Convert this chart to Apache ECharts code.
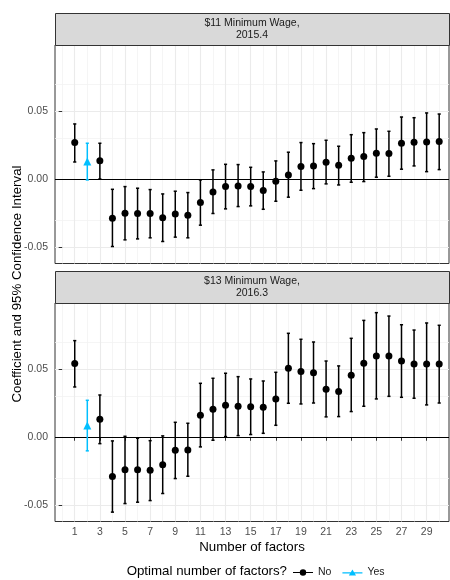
<!DOCTYPE html>
<html><head><meta charset="utf-8">
<script src="https://cdn.jsdelivr.net/npm/echarts@6/dist/echarts.min.js"></script>
<style>html,body{margin:0;padding:0;background:#fff}#c{width:450px;height:580px}</style>
</head><body><div id="c"></div>
<script>
// ---------- data ----------
const factors = [1,2,3,4,5,6,7,8,9,10,11,12,13,14,15,16,17,18,19,20,21,22,23,24,25,26,27,28,29,30];
const optimal = ['No','Yes','No','No','No','No','No','No','No','No','No','No','No','No','No','No','No','No','No','No','No','No','No','No','No','No','No','No','No','No'];
const panelTitles = ['$11 Minimum Wage,\n2015.4', '$13 Minimum Wage,\n2016.3'];

const coef11  = [0.0270,0.0130,0.0137,-0.0287,-0.0250,-0.0252,-0.0252,-0.0284,-0.0255,-0.0265,-0.0172,-0.0093,-0.0054,-0.0049,-0.0054,-0.0083,-0.0015,0.0032,0.0093,0.0098,0.0125,0.0103,0.0154,0.0167,0.0191,0.0189,0.0265,0.0272,0.0275,0.0277];
const upper11 = [0.0407,0.0265,0.0265,-0.0074,-0.0054,-0.0066,-0.0076,-0.0108,-0.0088,-0.0098,-0.0005,0.0069,0.0110,0.0108,0.0088,0.0054,0.0135,0.0199,0.0270,0.0262,0.0287,0.0243,0.0328,0.0343,0.0370,0.0353,0.0458,0.0453,0.0488,0.0480];
const lower11 = [0.0127,-0.0005,0.0002,-0.0495,-0.0446,-0.0439,-0.0431,-0.0458,-0.0426,-0.0431,-0.0338,-0.0252,-0.0218,-0.0201,-0.0196,-0.0221,-0.0162,-0.0132,-0.0081,-0.0069,-0.0034,-0.0042,-0.0022,-0.0017,0.0015,0.0022,0.0074,0.0098,0.0056,0.0071];

const coef13  = [0.0542,0.0086,0.0132,-0.0289,-0.0240,-0.0240,-0.0243,-0.0203,-0.0096,-0.0093,0.0162,0.0206,0.0235,0.0228,0.0225,0.0221,0.0282,0.0507,0.0483,0.0475,0.0353,0.0336,0.0456,0.0544,0.0598,0.0598,0.0561,0.0539,0.0539,0.0539];
const upper13 = [0.0711,0.0272,0.0311,-0.0027,0.0007,-0.0007,-0.0025,0.0010,0.0110,0.0103,0.0397,0.0434,0.0471,0.0446,0.0429,0.0414,0.0478,0.0765,0.0721,0.0701,0.0561,0.0525,0.0728,0.0860,0.0917,0.0892,0.0828,0.0789,0.0841,0.0824];
const lower13 = [0.0370,-0.0100,-0.0047,-0.0551,-0.0488,-0.0478,-0.0466,-0.0414,-0.0304,-0.0287,-0.0071,-0.0022,0.0005,0.0012,0.0020,0.0029,0.0088,0.0250,0.0245,0.0252,0.0150,0.0152,0.0189,0.0228,0.0282,0.0301,0.0294,0.0287,0.0238,0.0252];

const xTickValues = [1,3,5,7,9,11,13,15,17,19,21,23,25,27,29];
const xMinorGrid = [0,2,4,6,8,10,12,14,16,18,20,22,24,26,28,30];
const yTickValues = [-0.05, 0, 0.05];
const yMinorGrid = [-0.025, 0.025, 0.075];
const legendNames = ['No','Yes'];

// ---------- styling ----------
const FONT = '"Liberation Sans", Arial, sans-serif';
const COLORS = {No: '#000000', Yes: '#00BFFF'};
const GRID_LEFT = 55, GRID_W = 394, GRID_H = 218.5;
const gridTops = [45, 303];
const X_MIN = -0.57, X_MAX = 30.78, Y_MIN = -0.062, Y_MAX = 0.0988;
const CAP = 0.25;

const panels = [
  {coef: coef11, lo: lower11, hi: upper11},
  {coef: coef13, lo: lower13, hi: upper13}
];

const grids = gridTops.map(t => ({
  left: GRID_LEFT, top: t, width: GRID_W, height: GRID_H,
  show: true, backgroundColor: '#fff', borderColor: '#333333', borderWidth: 1
}));

const xAxes = gridTops.map((t, i) => ({
  type: 'value', gridIndex: i, min: X_MIN, max: X_MAX,
  axisLine: {show: false}, splitLine: {show: false},
  axisTick: {show: i === 1, length: 3.5, lineStyle: {color: '#333333'}, customValues: xTickValues},
  axisLabel: {show: i === 1, customValues: xTickValues, margin: 5, color: '#4D4D4D', fontSize: 10.5, fontFamily: FONT},
  name: i === 1 ? 'Number of factors' : '', nameLocation: 'middle', nameGap: 19.5,
  nameTextStyle: {fontSize: 13.3, color: '#000', fontFamily: FONT}
}));

const yAxes = gridTops.map((t, i) => ({
  type: 'value', gridIndex: i, min: Y_MIN, max: Y_MAX,
  axisLine: {show: false}, splitLine: {show: false},
  axisTick: {show: true, length: 3.5, lineStyle: {color: '#333333'}, customValues: yTickValues},
  axisLabel: {customValues: yTickValues, margin: 7, color: '#4D4D4D', fontSize: 10.5, fontFamily: FONT,
              formatter: v => v.toFixed(2)}
}));

function gridLines() {
  const major = {color: '#EBEBEB', width: 1.1, type: 'solid'};
  const minor = {color: '#F2F2F2', width: 0.8, type: 'solid'};
  const d = [];
  yMinorGrid.forEach(v => d.push({yAxis: v, lineStyle: minor}));
  xMinorGrid.forEach(v => d.push({xAxis: v, lineStyle: minor}));
  yTickValues.forEach(v => d.push({yAxis: v, lineStyle: major}));
  xTickValues.forEach(v => d.push({xAxis: v, lineStyle: major}));
  return d;
}

function errorBarRender(color) {
  return function (params, api) {
    const x = api.value(0), lo = api.value(1), hi = api.value(2);
    const a = api.coord([x, hi]), b = api.coord([x, lo]);
    const h = api.size([CAP, 0])[0] / 2;
    const st = {stroke: color, lineWidth: 1.5, fill: null, opacity: 1};
    return {type: 'group', children: [
      {type: 'line', shape: {x1: a[0], y1: a[1], x2: b[0], y2: b[1]}, style: st},
      {type: 'line', shape: {x1: a[0]-h, y1: a[1], x2: a[0]+h, y2: a[1]}, style: st},
      {type: 'line', shape: {x1: b[0]-h, y1: b[1], x2: b[0]+h, y2: b[1]}, style: st}
    ]};
  };
}

const series = [];
panels.forEach((p, i) => {
  series.push({
    type: 'scatter', name: 'grid' + i, xAxisIndex: i, yAxisIndex: i, data: [], z: 0, silent: true,
    markLine: {z: 0, silent: true, symbol: ['none','none'], label: {show: false}, animation: false, data: gridLines()}
  });
  series.push({
    type: 'scatter', name: 'zero' + i, xAxisIndex: i, yAxisIndex: i, data: [], z: 1, silent: true,
    markLine: {z: 1, silent: true, symbol: ['none','none'], label: {show: false}, animation: false,
      data: [{yAxis: 0, lineStyle: {color: '#000', width: 1.2, type: 'solid'}}]}
  });
  legendNames.forEach(nm => {
    const bars = [], pts = [];
    factors.forEach((f, k) => {
      if (optimal[k] !== nm) return;
      bars.push([f, p.lo[k], p.hi[k]]);
      pts.push([f, p.coef[k]]);
    });
    series.push({
      type: 'custom', name: nm, xAxisIndex: i, yAxisIndex: i, z: 3,
      renderItem: errorBarRender(COLORS[nm]), encode: {x: 0, y: [1, 2]}, data: bars,
      itemStyle: {color: COLORS[nm]}, animation: false
    });
    series.push({
      type: 'scatter', name: nm, xAxisIndex: i, yAxisIndex: i, z: 4,
      symbol: nm === 'Yes' ? 'triangle' : 'circle', symbolSize: nm === 'Yes' ? 8 : 7,
      itemStyle: {color: COLORS[nm], opacity: 1}, data: pts, animation: false
    });
  });
});

const graphics = [];
gridTops.forEach((t, i) => {
  graphics.push({type: 'rect', left: GRID_LEFT, top: t - 32, shape: {width: GRID_W, height: 32},
    style: {fill: '#D9D9D9', stroke: '#333333', lineWidth: 1}, z: 10});
  graphics.push({type: 'text', x: GRID_LEFT + GRID_W / 2, y: t - 16, z: 11,
    style: {text: panelTitles[i], textAlign: 'center', textVerticalAlign: 'middle',
      font: '10.5px ' + FONT, fill: '#1A1A1A', lineHeight: 11.5}});
});
graphics.push({type: 'text', x: 17, y: 284, rotation: Math.PI / 2,
  style: {text: 'Coefficient and 95% Confidence Interval', textAlign: 'center', textVerticalAlign: 'middle',
    font: '13.3px ' + FONT, fill: '#000'}});
graphics.push({type: 'text', x: 287, y: 571,
  style: {text: 'Optimal number of factors?', textAlign: 'right', textVerticalAlign: 'middle',
    font: '13.3px ' + FONT, fill: '#000'}});

const ICONS = {
  No: 'path://M0,3.4H20V4.6H0Z M13.2,4A3.2,3.2 0 1 1 6.8,4A3.2,3.2 0 1 1 13.2,4Z',
  Yes: 'path://M0,3.4H20V4.6H0Z M10,0.6L13.6,6.8H6.4Z'
};

const chart = echarts.init(document.getElementById('c'), null, {renderer: 'canvas'});
chart.setOption({
  animation: false,
  backgroundColor: '#fff',
  grid: grids,
  xAxis: xAxes,
  yAxis: yAxes,
  legend: {
    left: 293, top: 567, padding: 0, itemWidth: 20, itemHeight: 8, itemGap: 11,
    textStyle: {fontSize: 10.5, color: '#1A1A1A', fontFamily: FONT},
    data: legendNames.map(n => ({name: n, icon: ICONS[n], itemStyle: {color: COLORS[n]}}))
  },
  graphic: graphics,
  series: series
});
</script></body></html>
